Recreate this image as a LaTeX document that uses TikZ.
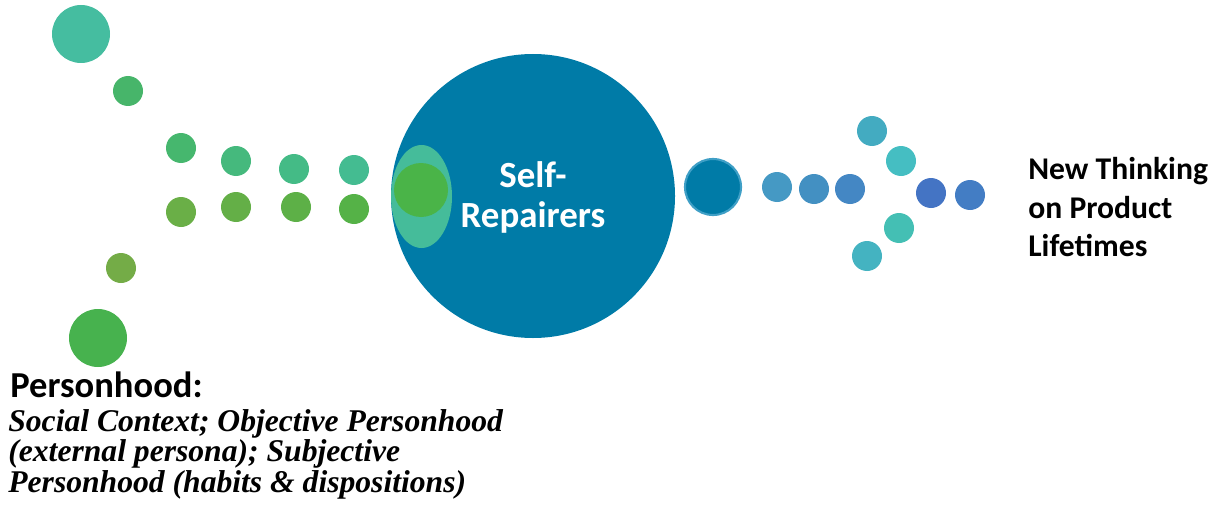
\documentclass[tikz,border=0pt]{standalone}
\usepackage{fontspec}
\setmainfont{Liberation Serif}
\newfontfamily\carlito{Carlito}

% Colores
\definecolor{azulrep}{HTML}{007BA7}
\definecolor{aroreal}{HTML}{3F9FC6}
\definecolor{verdeint}{HTML}{4AB448}
\definecolor{turqint}{HTML}{45BC9A}

\begin{document}
\begin{tikzpicture}[x=0.02cm,y=-0.02cm]
  \useasboundingbox (0,0) rectangle (1223,510);

  % Puntos de entrada (personhood)
  \fill[fill={rgb,255:red,69;green,189;blue,160}] (81,34) circle (29);
  \fill[fill={rgb,255:red,71;green,181;blue,106}] (128,91) circle (15);
  \fill[fill={rgb,255:red,116;green,172;blue,71}] (121,268) circle (15);
  \fill[fill={rgb,255:red,71;green,178;blue,78}] (98,338) circle (29);
  \foreach \x/\y/\r/\g/\b in {181/148/70/183/110, 236/161/69/185/125,
                              294/169/68/187/134, 354/170/68/188/145,
                              181/212/106/175/71, 236/207/100/175/71,
                              296/207/93/176/71, 354/209/85/178/71}
    \fill[fill={rgb,255:red,\r;green,\g;blue,\b}] (\x,\y) circle (15);

  % Circulo central
  \fill[azulrep] (533,196) circle (142);
  \fill[turqint] (421.5,196.5) ellipse (30.5 and 51.5);
  \fill[verdeint] (421,190) circle (27);
  \node[font=\carlito\bfseries\fontsize{21}{22.8}\selectfont, text=white,
        align=center, inner sep=0pt] (central) at (533,197) {Self-\\Repairers};

  % Puntos de salida
  \fill[azulrep, draw=aroreal, line width=1.2pt] (713,187) circle (28);
  \foreach \x/\y/\c in {777/187/4599C4, 814/189/4390C2, 850/189/4487C4,
                        872/131/43ABC1, 901/161/45BEC2, 931/193/4474C4,
                        970/195/437DC4, 899/228/44BFB4, 867/256/44B3C1} {
    \definecolor{punto}{HTML}{\c}
    \fill[punto] (\x,\y) circle (15);
  }

  % Textos
  \node[font=\carlito\bfseries\fontsize{18}{21.9}\selectfont, align=left,
        anchor=north west, inner sep=0pt] (futuro) at (1028,157)
        {New Thinking\\on Product\\Lifetimes};
  \node[font=\carlito\bfseries\fontsize{20.8}{24}\selectfont, anchor=base west,
        inner sep=0pt] (persona) at (10,397) {Personhood:};
  \node[font=\bfseries\itshape\fontsize{18}{17.4}\selectfont, align=left,
        anchor=north west, inner sep=0pt] (detalle) at (8,409)
        {Social Context; Objective Personhood\\(external persona); Subjective\\Personhood (habits \& dispositions)};
\end{tikzpicture}
\end{document}
